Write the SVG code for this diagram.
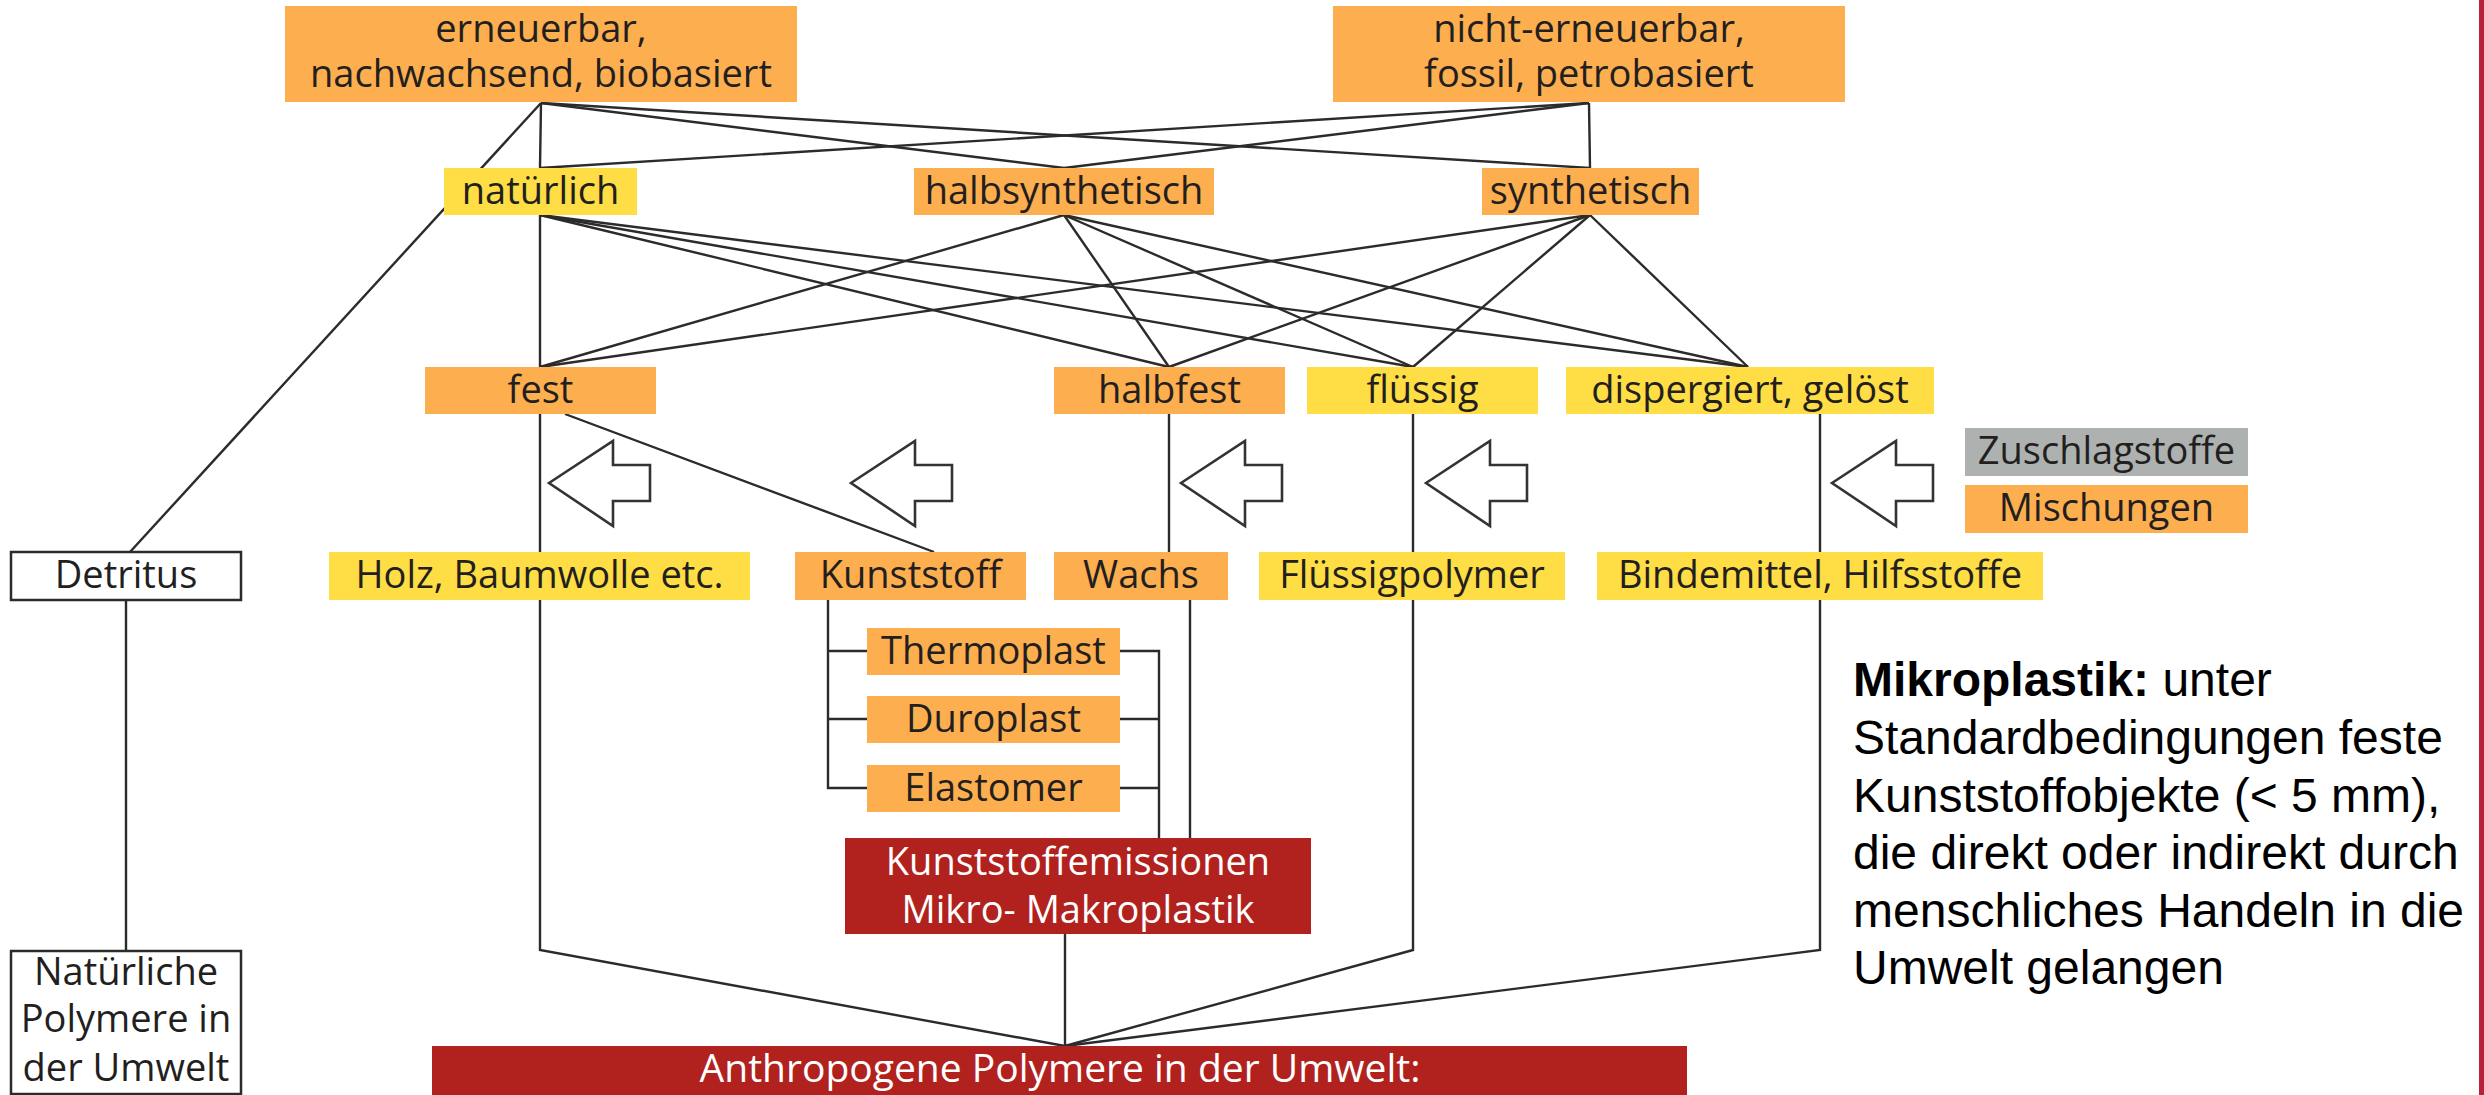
<svg xmlns="http://www.w3.org/2000/svg" width="2484" height="1095" viewBox="0 0 2484 1095">
<style>
.o{fill:#FDAE4E}
.y{fill:#FEDD45}
.g{fill:#ADB2B0}
.r{fill:#B1221F}
.w{fill:#fff;stroke:#2b2b2b;stroke-width:2.5}
.t{font-family:"Open Sans","Noto Sans",sans-serif;font-size:38px;fill:#231f20;text-anchor:middle}
.tw{fill:#fff}
.c{fill:none;stroke:#2b2b2b;stroke-width:2.4}
.ar{fill:#fff;stroke:#333;stroke-width:2.6}
.note{font-family:"Liberation Sans",Arial,sans-serif;font-size:48px;fill:#000}
</style>
<defs>
<path id="arrow" d="M0,0 L64,-42 L64,-18 L101,-18 L101,18 L64,18 L64,43 Z"/>
</defs>
<rect width="2484" height="1095" fill="#fff"/>
<rect x="2479" y="0" width="5" height="1095" fill="#B5223A"/>

<g id="connectors" class="c">
<path d="M541,103 L540,168"/>
<path d="M541,103 L1064,168"/>
<path d="M541,103 L1590,168"/>
<path d="M541,103 L130,552"/>
<path d="M1589,103 L540,168"/>
<path d="M1589,103 L1064,168"/>
<path d="M1589,103 L1590,168"/>
<path d="M540,215 L540,367"/>
<path d="M540,215 L1169,367"/>
<path d="M540,215 L1413,367"/>
<path d="M540,215 L1748,367"/>
<path d="M1064,215 L540,367"/>
<path d="M1064,215 L1169,367"/>
<path d="M1064,215 L1413,367"/>
<path d="M1064,215 L1748,367"/>
<path d="M1590,215 L540,367"/>
<path d="M1590,215 L1169,367"/>
<path d="M1590,215 L1413,367"/>
<path d="M1590,215 L1748,367"/>
<path d="M540,414 L540,950 L1065,1046"/>
<path d="M565,414 L934,552"/>
<path d="M1169,414 L1169,552"/>
<path d="M1413,414 L1413,950 L1065,1046"/>
<path d="M1820,414 L1820,950 L1065,1046"/>
<path d="M1065,934 L1065,1046"/>
<path d="M1190,600 L1190,838"/>
<path d="M828,600 L828,788 L867,788 M828,651 L867,651 M828,719 L867,719"/>
<path d="M1120,651 L1159,651 L1159,838 M1120,719 L1159,719 M1120,788 L1159,788"/>
<path d="M126,600 L126,951"/>
</g>

<g id="arrows" class="ar">
<use href="#arrow" x="549" y="483"/>
<use href="#arrow" x="851" y="483"/>
<use href="#arrow" x="1181" y="483"/>
<use href="#arrow" x="1426" y="483"/>
<use href="#arrow" x="1832" y="483"/>
</g>

<g id="n-erneuerbar"><rect class="o" x="285" y="6" width="512" height="96"/><text class="t" x="541" y="42">erneuerbar,</text><text class="t" x="541" y="87">nachwachsend, biobasiert</text></g>
<g id="n-nichterneuerbar"><rect class="o" x="1333" y="6" width="512" height="96"/><text class="t" x="1589" y="42">nicht-erneuerbar,</text><text class="t" x="1589" y="87">fossil, petrobasiert</text></g>

<g id="n-natuerlich"><rect class="y" x="444" y="168" width="193" height="47"/><text class="t" x="540.5" y="204">natürlich</text></g>
<g id="n-halbsynthetisch"><rect class="o" x="914" y="168" width="300" height="47"/><text class="t" x="1064" y="204">halbsynthetisch</text></g>
<g id="n-synthetisch"><rect class="o" x="1482" y="168" width="217" height="47"/><text class="t" x="1590.5" y="204">synthetisch</text></g>

<g id="n-fest"><rect class="o" x="425" y="367" width="231" height="47"/><text class="t" x="540.5" y="403">fest</text></g>
<g id="n-halbfest"><rect class="o" x="1054" y="367" width="231" height="47"/><text class="t" x="1169.5" y="403">halbfest</text></g>
<g id="n-fluessig"><rect class="y" x="1307" y="367" width="231" height="47"/><text class="t" x="1422.5" y="403">flüssig</text></g>
<g id="n-dispergiert"><rect class="y" x="1566" y="367" width="368" height="47"/><text class="t" x="1750" y="403">dispergiert, gelöst</text></g>

<g id="n-zuschlagstoffe"><rect class="g" x="1965" y="428" width="283" height="48"/><text class="t" x="2106.5" y="464">Zuschlagstoffe</text></g>
<g id="n-mischungen"><rect class="o" x="1965" y="485" width="283" height="48"/><text class="t" x="2106.5" y="521">Mischungen</text></g>

<g id="n-detritus"><rect class="w" x="11" y="552" width="230" height="48"/><text class="t" x="126" y="588">Detritus</text></g>
<g id="n-holz"><rect class="y" x="329" y="552" width="421" height="48"/><text class="t" x="539.5" y="588">Holz, Baumwolle etc.</text></g>
<g id="n-kunststoff"><rect class="o" x="795" y="552" width="231" height="48"/><text class="t" x="910.5" y="588">Kunststoff</text></g>
<g id="n-wachs"><rect class="o" x="1054" y="552" width="174" height="48"/><text class="t" x="1141" y="588">Wachs</text></g>
<g id="n-fluessigpolymer"><rect class="y" x="1259" y="552" width="306" height="48"/><text class="t" x="1412" y="588">Flüssigpolymer</text></g>
<g id="n-bindemittel"><rect class="y" x="1597" y="552" width="446" height="48"/><text class="t" x="1820" y="588">Bindemittel, Hilfsstoffe</text></g>

<g id="n-thermoplast"><rect class="o" x="867" y="628" width="253" height="47"/><text class="t" x="993.5" y="664">Thermoplast</text></g>
<g id="n-duroplast"><rect class="o" x="867" y="696" width="253" height="47"/><text class="t" x="993.5" y="732">Duroplast</text></g>
<g id="n-elastomer"><rect class="o" x="867" y="765" width="253" height="47"/><text class="t" x="993.5" y="801">Elastomer</text></g>

<g id="n-emissionen"><rect class="r" x="845" y="838" width="466" height="96"/><text class="t tw" x="1078" y="875">Kunststoffemissionen</text><text class="t tw" x="1078" y="923">Mikro- Makroplastik</text></g>

<g id="n-natpolymere"><rect class="w" x="11" y="951" width="230" height="143"/><text class="t" x="126" y="985">Natürliche</text><text class="t" x="126" y="1032">Polymere in</text><text class="t" x="126" y="1081">der Umwelt</text></g>

<g id="n-anthropogen"><rect class="r" x="432" y="1046" width="1255" height="49"/><text class="t tw" x="1060" y="1082" style="font-size:39px">Anthropogene Polymere in der Umwelt:</text></g>

<g id="note" class="note">
<text x="1853" y="696"><tspan font-weight="bold">Mikroplastik:</tspan> unter</text>
<text x="1853" y="754">Standardbedingungen feste</text>
<text x="1853" y="812">Kunststoffobjekte (&lt; 5 mm),</text>
<text x="1853" y="869">die direkt oder indirekt durch</text>
<text x="1853" y="927">menschliches Handeln in die</text>
<text x="1853" y="984">Umwelt gelangen</text>
</g>
</svg>
